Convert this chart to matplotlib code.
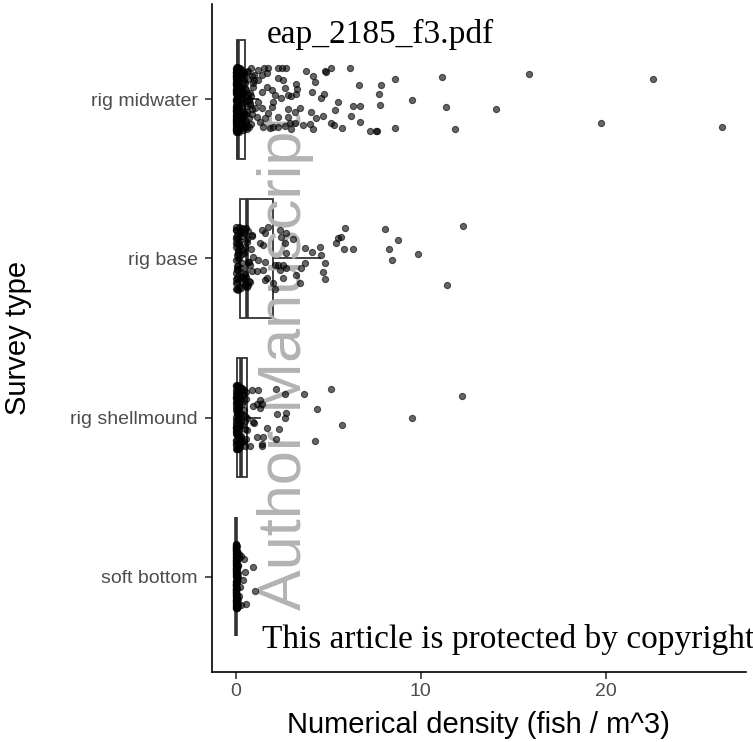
import matplotlib.pyplot as plt

categories = ['soft bottom', 'rig shellmound', 'rig base', 'rig midwater']

# box statistics: q1, median, q3, whisker low, whisker high
box_q1 = [0.00, 0.08, 0.25, 0.05]
box_med = [0.00, 0.30, 0.62, 0.12]
box_q3 = [0.03, 0.58, 2.00, 0.49]
box_lo = [0.00, 0.00, 0.00, 0.00]
box_hi = [0.07, 1.30, 4.55, 1.20]

# jittered points: density values and vertical jitter
soft_vals = [0.95, 1.05, 0.30, 0.45, 0.50, 0.40, 0.55, 0.30,
             0.00, 0.01, 0.00, 0.02, 0.03, 0.00, 0.05, 0.01, 0.00, 0.04,
             0.07, 0.00, 0.02, 0.10, 0.01, 0.00, 0.03, 0.13, 0.00, 0.06,
             0.01, 0.00, 0.08, 0.02, 0.00, 0.15, 0.04, 0.00, 0.01, 0.11,
             0.00, 0.03, 0.18, 0.00, 0.02, 0.09, 0.00, 0.05, 0.01, 0.12,
             0.00, 0.02, 0.01, 0.00, 0.04, 0.00, 0.03, 0.06, 0.00, 0.01,
             0.08, 0.02, 0.00, 0.05, 0.14, 0.00, 0.03, 0.01, 0.10, 0.00,
             0.07, 0.02, 0.00, 0.04, 0.16, 0.01, 0.00, 0.06, 0.03, 0.00,
             0.09, 0.02, 0.00, 0.12, 0.01, 0.05, 0.00, 0.03, 0.20, 0.00]
soft_jit = [0.06, -0.09, 0.13, 0.11, 0.03, -0.02, -0.17, -0.18,
            0.16, -0.12, 0.05, -0.19, 0.10, -0.03, 0.19, -0.08, 0.01, 0.13,
            -0.16, 0.08, -0.06, -0.14, 0.17, 0.03, -0.18, 0.00, 0.12, -0.01,
            -0.10, 0.18, 0.06, -0.15, -0.04, 0.14, -0.17, -0.11, 0.15, 0.02,
            0.09, 0.11, -0.12, 0.04, -0.20, -0.07, -0.05, 0.16, -0.09, 0.07,
            -0.195, 0.195, -0.045, 0.085, 0.135, -0.125, -0.075, 0.045, 0.175, -0.165,
            0.025, 0.145, -0.105, -0.025, 0.065, 0.205, 0.105, -0.145, -0.185, -0.005,
            0.155, -0.055, 0.055, -0.135, 0.115, 0.185, -0.085, -0.195, 0.125, 0.035,
            -0.035, -0.115, 0.165, -0.175, 0.015, 0.095, -0.155, 0.075, -0.065, 0.195]
soft_dense_vals = [0.00, 0.01, 0.00, 0.02, 0.00, 0.01, 0.03, 0.00, 0.00, 0.02,
                   0.04, 0.00, 0.01, 0.00, 0.05, 0.02, 0.00, 0.01, 0.03, 0.00,
                   0.00, 0.02, 0.01, 0.00, 0.04, 0.00, 0.01, 0.02, 0.00, 0.06,
                   0.01, 0.00, 0.03, 0.00, 0.02, 0.01, 0.00, 0.04, 0.00, 0.02]
soft_dense_jit = [0.185, -0.185, 0.105, -0.095, 0.035, -0.035, 0.155, -0.155, 0.075, -0.065,
                  0.125, -0.125, 0.005, 0.195, -0.195, 0.055, -0.045, 0.165, -0.165, 0.095,
                  -0.105, 0.145, -0.145, 0.025, -0.015, 0.115, -0.085, 0.175, -0.175, -0.005,
                  0.065, -0.055, 0.135, -0.135, 0.045, -0.025, 0.205, -0.115, 0.085, -0.075]

shell_vals = [5.12, 12.25, 9.50, 5.75, 4.40, 4.27, 3.68, 2.65, 2.16, 2.74,
              2.65, 2.20, 2.34, 1.66, 2.16, 1.39, 1.39, 1.12, 1.48, 1.21,
              0.85, 1.30, 1.39, 1.12, 0.94, 1.30, 0.94, 0.76, 0.99,
              0.00, 0.03, 0.08, 0.12, 0.02, 0.18, 0.25, 0.05, 0.32, 0.40,
              0.01, 0.10, 0.48, 0.15, 0.55, 0.04, 0.22, 0.60, 0.07, 0.28,
              0.00, 0.35, 0.13, 0.45, 0.02, 0.20, 0.52, 0.09, 0.38, 0.06,
              0.16, 0.00, 0.30, 0.43, 0.11, 0.58, 0.04, 0.24, 0.01, 0.50,
              0.00, 0.05, 0.14, 0.02, 0.21, 0.09, 0.33, 0.01, 0.27, 0.44,
              0.06, 0.17, 0.00, 0.39, 0.12, 0.03, 0.53, 0.08, 0.23, 0.00,
              0.47, 0.15, 0.04, 0.31, 0.10, 0.57, 0.02, 0.19, 0.36, 0.07]
shell_jit = [0.182, 0.134, -0.002, -0.048, 0.054, -0.147, 0.147, 0.147, 0.182, 0.029,
             0.000, 0.025, -0.075, -0.063, -0.136, -0.168, -0.180, -0.120, -0.120, 0.172,
             0.172, 0.113, 0.088, 0.088, 0.071, 0.057, -0.028, -0.180, -0.034,
             0.17, -0.14, 0.06, -0.19, 0.12, -0.04, 0.19, -0.10, 0.02, 0.14,
             -0.17, 0.09, -0.07, -0.12, 0.16, 0.04, -0.16, 0.00, 0.11, -0.02,
             -0.09, 0.18, 0.07, -0.15, -0.05, 0.13, -0.18, -0.11, 0.15, 0.03,
             0.08, 0.10, -0.13, 0.05, -0.20, -0.08, -0.01, 0.16, -0.06, 0.01,
             -0.195, 0.195, -0.085, 0.045, -0.145, 0.125, 0.085, -0.035, -0.115, 0.175,
             0.155, -0.175, -0.065, 0.105, 0.205, 0.065, -0.135, -0.195, 0.025, 0.135,
             -0.025, -0.055, 0.175, 0.185, -0.155, 0.115, -0.105, -0.185, -0.045, 0.095]
shell_dense_vals = [0.00, 0.02, 0.05, 0.01, 0.09, 0.03, 0.13, 0.00, 0.18, 0.06,
                    0.24, 0.01, 0.29, 0.04, 0.35, 0.00, 0.11, 0.02, 0.21, 0.07,
                    0.00, 0.15, 0.03, 0.26, 0.01]
shell_dense_jit = [0.155, -0.165, 0.025, -0.085, 0.105, 0.195, -0.125, -0.015, 0.065, -0.195,
                   -0.045, 0.125, 0.175, -0.105, -0.155, 0.085, 0.045, -0.065, -0.185, 0.145,
                   0.005, -0.025, 0.205, 0.115, -0.145]

base_vals = [8.05, 8.77, 8.27, 8.43, 9.84, 12.31, 11.42, 6.32,
             5.89, 5.53, 5.71, 5.44, 5.85,
             4.54, 4.59, 4.13, 4.81, 4.69, 4.81, 3.73, 3.73, 3.55, 3.28, 3.46,
             3.10, 2.74, 2.38, 2.47, 2.65, 2.74, 2.56, 2.29, 2.11, 2.74, 2.38,
             2.56, 2.02, 2.11, 1.57, 1.39, 1.57, 1.75, 1.48, 1.30, 1.21, 1.57,
             1.12, 1.48, 1.66,
             0.00, 0.05, 0.12, 0.02, 0.20, 0.30, 0.08, 0.40, 0.15, 0.55,
             0.03, 0.25, 0.65, 0.10, 0.35, 0.80, 0.01, 0.45, 0.18, 0.90,
             0.06, 0.28, 0.60, 0.04, 0.50, 0.22, 0.75, 0.00, 0.38, 0.14,
             0.85, 0.07, 0.32, 0.70, 0.02, 0.48, 0.17, 0.95, 0.09, 0.26,
             0.58, 0.00, 0.42, 0.11, 0.68, 0.03, 0.36, 0.78, 0.13, 0.52,
             0.00, 0.10, 0.23, 0.04, 0.33, 0.16, 0.47, 0.01, 0.62, 0.08,
             0.29, 0.72, 0.12, 0.41, 0.02, 0.56, 0.19, 0.87, 0.06, 0.34,
             0.00, 0.45, 0.14, 0.66, 0.27]
base_jit = [0.184, 0.115, 0.058, -0.011, 0.025, 0.201, -0.168, 0.058,
            0.189, 0.126, 0.136, 0.094, 0.058,
            0.073, 0.021, 0.042, -0.028, -0.084, -0.132, 0.063, -0.028, -0.063, -0.105, -0.153,
            0.123, 0.157, 0.178, 0.136, 0.094, 0.035, -0.042, -0.042, -0.042, -0.063, -0.074,
            -0.126, -0.157, -0.189, -0.136, 0.178, 0.157, 0.199, 0.084, 0.094, -0.011, -0.021,
            -0.078, -0.074, -0.126,
            0.18, -0.15, 0.04, -0.19, 0.11, -0.06, 0.15, -0.12, 0.00, 0.19,
            -0.09, 0.08, -0.17, 0.13, -0.03, 0.06, -0.13, 0.16, -0.18, -0.08,
            0.02, -0.11, 0.12, 0.09, -0.16, 0.17, -0.04, -0.01, 0.05, -0.20,
            0.14, -0.07, 0.19, -0.14, 0.07, -0.10, 0.10, 0.01, -0.05, 0.16,
            -0.18, 0.12, -0.13, 0.03, -0.02, 0.18, 0.14, -0.15, -0.11, 0.07,
            0.095, -0.045, 0.165, -0.125, 0.025, 0.195, -0.175, 0.135, 0.105, -0.195,
            -0.085, -0.025, 0.055, 0.185, -0.155, -0.115, 0.075, 0.145, -0.065, -0.145,
            0.195, 0.035, -0.005, 0.175, -0.185]

mid_vals = [15.85, 14.09, 22.56, 19.73, 26.27,
            6.16, 6.67, 7.84, 8.61, 11.17, 7.75, 9.50, 6.31, 6.74, 7.80, 11.35,
            6.22, 6.70, 7.24, 7.57, 7.66, 8.59, 11.86,
            2.29, 2.50, 2.74, 1.75, 1.53, 1.21, 3.77, 4.81, 4.90, 5.14, 4.18,
            4.27, 2.29, 2.56, 3.28, 3.33, 4.13, 3.28, 4.77, 4.63, 3.01, 2.47,
            2.02, 5.53, 2.83, 3.19, 4.05, 3.46, 5.35, 4.72, 4.36, 5.14, 5.31,
            5.75, 4.00, 3.64, 4.18, 3.19, 2.92, 2.65, 2.29, 2.02, 1.84, 3.01,
            1.48, 2.29, 2.83, 1.75, 1.93, 1.39, 1.66, 1.93, 2.65, 2.83, 2.11,
            1.21, 1.39, 1.66, 1.21, 1.39, 1.12, 1.30, 1.57,
            0.00, 0.01, 0.03, 0.02, 0.06, 0.04, 0.09, 0.12, 0.05, 0.15,
            0.18, 0.08, 0.22, 0.26, 0.10, 0.30, 0.35, 0.14, 0.40, 0.45,
            0.01, 0.03, 0.20, 0.50, 0.07, 0.55, 0.62, 0.11, 0.68, 0.75,
            0.02, 0.00, 0.16, 0.82, 0.04, 0.90, 0.24, 0.97, 0.06, 0.33,
            0.00, 0.13, 0.43, 0.02, 0.58, 0.19, 0.71, 0.05, 0.85, 0.28,
            0.01, 0.09, 0.38, 0.03, 0.48, 0.17, 0.66, 0.00, 0.78, 0.25,
            0.04, 0.12, 0.52, 0.08, 0.93, 0.21, 0.36, 0.02, 0.60, 0.15,
            0.00, 0.07, 0.42, 0.03, 0.73, 0.27, 0.88, 0.10, 0.47, 0.18,
            0.00, 0.02, 0.05, 0.01, 0.08, 0.03, 0.11, 0.00, 0.14, 0.06,
            0.19, 0.02, 0.23, 0.09, 0.29, 0.04, 0.34, 0.01, 0.41, 0.13,
            0.46, 0.07, 0.53, 0.00, 0.59, 0.16, 0.65, 0.03, 0.70, 0.21,
            0.77, 0.05, 0.84, 0.10, 0.91, 0.26, 0.99, 0.02, 1.05, 0.31,
            0.00, 0.12, 0.37, 0.04, 0.44, 0.08, 0.56, 0.01, 0.63, 0.18,
            0.02, 0.24, 0.49, 0.06, 0.72, 0.00, 0.81, 0.15, 0.39, 0.09]
mid_jit = [0.157, -0.059, 0.128, -0.147, -0.172,
           0.199, 0.090, 0.090, 0.126, 0.138, 0.031, -0.004, -0.042, -0.042, -0.038, -0.046,
           -0.103, -0.143, -0.197, -0.197, -0.197, -0.178, -0.189,
           0.200, 0.200, 0.200, 0.200, 0.195, 0.184, 0.178, 0.178, 0.174, 0.200, 0.149,
           0.111, 0.132, 0.121, 0.094, 0.063, 0.048, 0.031, 0.031, 0.006, 0.023, 0.006,
           -0.015, -0.015, -0.061, -0.078, -0.082, -0.057, -0.067, -0.105, -0.120, -0.151, -0.162,
           -0.179, -0.157, -0.162, -0.187, -0.151, -0.151, -0.170, -0.176, -0.176, -0.180, -0.187,
           -0.172, -0.109, -0.109, -0.088, -0.046, 0.048, 0.079, 0.058, 0.069, 0.027, 0.027,
           0.121, 0.153, 0.164, -0.015, -0.057, -0.109, -0.141, -0.120,
           0.19, -0.18, 0.05, -0.07, 0.14, -0.12, 0.01, 0.17, -0.03, -0.19,
           0.09, 0.12, -0.15, 0.03, -0.09, 0.16, -0.05, 0.07, -0.17, 0.11,
           -0.01, 0.15, -0.11, -0.14, 0.18, 0.06, -0.08, -0.16, 0.13, -0.02,
           0.10, -0.10, 0.20, 0.02, -0.13, -0.06, 0.08, 0.12, -0.20, -0.12,
           0.04, -0.04, 0.16, 0.17, -0.16, -0.18, 0.00, 0.11, -0.09, 0.14,
           -0.14, 0.19, -0.07, -0.19, 0.07, 0.02, 0.18, -0.11, 0.04, -0.15,
           0.13, -0.02, -0.18, 0.09, 0.10, 0.17, -0.13, 0.06, -0.04, -0.08,
           -0.06, 0.01, 0.03, -0.17, -0.12, -0.10, 0.15, 0.18, -0.01, 0.08,
           0.005, -0.195, 0.185, -0.045, 0.125, -0.085, 0.165, -0.135, 0.045, -0.165,
           0.085, 0.195, -0.025, 0.145, -0.115, -0.205, 0.065, 0.105, -0.155, -0.065,
           0.175, 0.025, -0.095, 0.155, -0.185, 0.115, 0.035, -0.125, -0.175, 0.055,
           -0.035, 0.135, 0.195, -0.015, 0.075, -0.145, 0.155, 0.095, -0.055, 0.185,
           -0.105, 0.015, -0.195, 0.205, 0.125, -0.075, -0.135, -0.035, 0.175, -0.165,
           0.065, 0.165, 0.105, -0.115, -0.005, 0.145, -0.155, -0.205, 0.035, 0.195]
mid_dense_vals = [0.00, 0.01, 0.02, 0.00, 0.03, 0.05, 0.01, 0.07, 0.00, 0.10,
                  0.02, 0.13, 0.04, 0.17, 0.00, 0.21, 0.06, 0.25, 0.01, 0.29,
                  0.03, 0.34, 0.00, 0.38, 0.08, 0.44, 0.02, 0.00, 0.11, 0.05,
                  0.15, 0.01, 0.19, 0.00, 0.23, 0.04, 0.27, 0.09, 0.32, 0.02,
                  0.00, 0.36, 0.06, 0.41, 0.01, 0.46, 0.12, 0.03, 0.00, 0.20]
mid_dense_jit = [-0.185, 0.175, -0.005, 0.095, -0.125, 0.035, -0.065, 0.155, -0.155, 0.075,
                 0.125, -0.035, -0.195, 0.185, 0.055, -0.105, 0.205, -0.145, -0.075, 0.015,
                 0.165, -0.175, 0.115, 0.045, -0.015, -0.085, 0.145, -0.205, 0.195, 0.105,
                 -0.055, -0.135, 0.025, 0.135, -0.165, 0.185, 0.065, -0.115, 0.005, -0.045,
                 0.085, 0.155, -0.185, -0.025, 0.175, -0.095, 0.125, -0.155, 0.035, 0.195]

point_vals = [soft_vals + soft_dense_vals, shell_vals + shell_dense_vals,
              base_vals, mid_vals + mid_dense_vals]
point_jit = [soft_jit + soft_dense_jit, shell_jit + shell_dense_jit,
             base_jit, mid_jit + mid_dense_jit]

fig = plt.figure(figsize=(7.53, 7.42), dpi=100)
ax = fig.add_axes([0.2809, 0.0943, 0.7098, 0.9004])

positions = [1, 2, 3, 4]
stats = []
for i, name in enumerate(categories):
    stats.append({'label': name, 'q1': box_q1[i], 'med': box_med[i], 'q3': box_q3[i],
                  'whislo': box_lo[i], 'whishi': box_hi[i]})

ax.bxp(stats, positions=positions, widths=0.75, orientation='horizontal',
       showfliers=False, showcaps=False, patch_artist=True,
       boxprops=dict(facecolor='white', edgecolor='#333333', linewidth=1.3),
       medianprops=dict(color='#333333', linewidth=2.6),
       whiskerprops=dict(color='#333333', linewidth=1.3),
       zorder=2)

# watermark below the points
ax.text(286 / 753, 1 - 362 / 742, 'Author Manuscript', transform=fig.transFigure,
        rotation=90, fontsize=44, color='#b3b3b3', family='Liberation Sans',
        ha='center', va='center', zorder=2.5)

for pos, vals, jit in zip(positions, point_vals, point_jit):
    ys = [pos + j for j in jit]
    ax.scatter(vals, ys, s=20, c='black', alpha=0.6, linewidths=0.8,
               edgecolors='black', zorder=3)

xmax = max(max(v) for v in point_vals)
pad = 0.05 * xmax
ax.set_xlim(-pad, xmax + pad)
ax.set_ylim(0.4, 4.6)

ax.set_yticks(positions)
ax.set_yticklabels(categories)
ax.set_xticks([0, 10, 20])

ax.spines['top'].set_visible(False)
ax.spines['right'].set_visible(False)
for s in ['left', 'bottom']:
    ax.spines[s].set_linewidth(1.2)
    ax.spines[s].set_color('black')

ax.tick_params(axis='both', length=5, width=1.2, color='#333333',
               labelcolor='#4d4d4d', labelsize=14, pad=3)
ax.tick_params(axis='y', pad=5)
for lab in ax.get_xticklabels() + ax.get_yticklabels():
    lab.set_family('Liberation Sans')

ax.set_xlabel('Numerical density (fish / m^3)', fontsize=21, family='Liberation Sans', labelpad=8)
ax.set_ylabel('Survey type', fontsize=21, family='Liberation Sans')
ax.yaxis.set_label_coords(-0.335, 0.5)

fig.text(267 / 753, 1 - 43 / 742, 'eap_2185_f3.pdf', fontsize=24,
         family='Liberation Serif', color='black', va='baseline')
fig.text(262 / 753, 1 - 648 / 742, 'This article is protected by copyright',
         fontsize=24, family='Liberation Serif', color='black', va='baseline')

fig.savefig('out.png', dpi=100)
